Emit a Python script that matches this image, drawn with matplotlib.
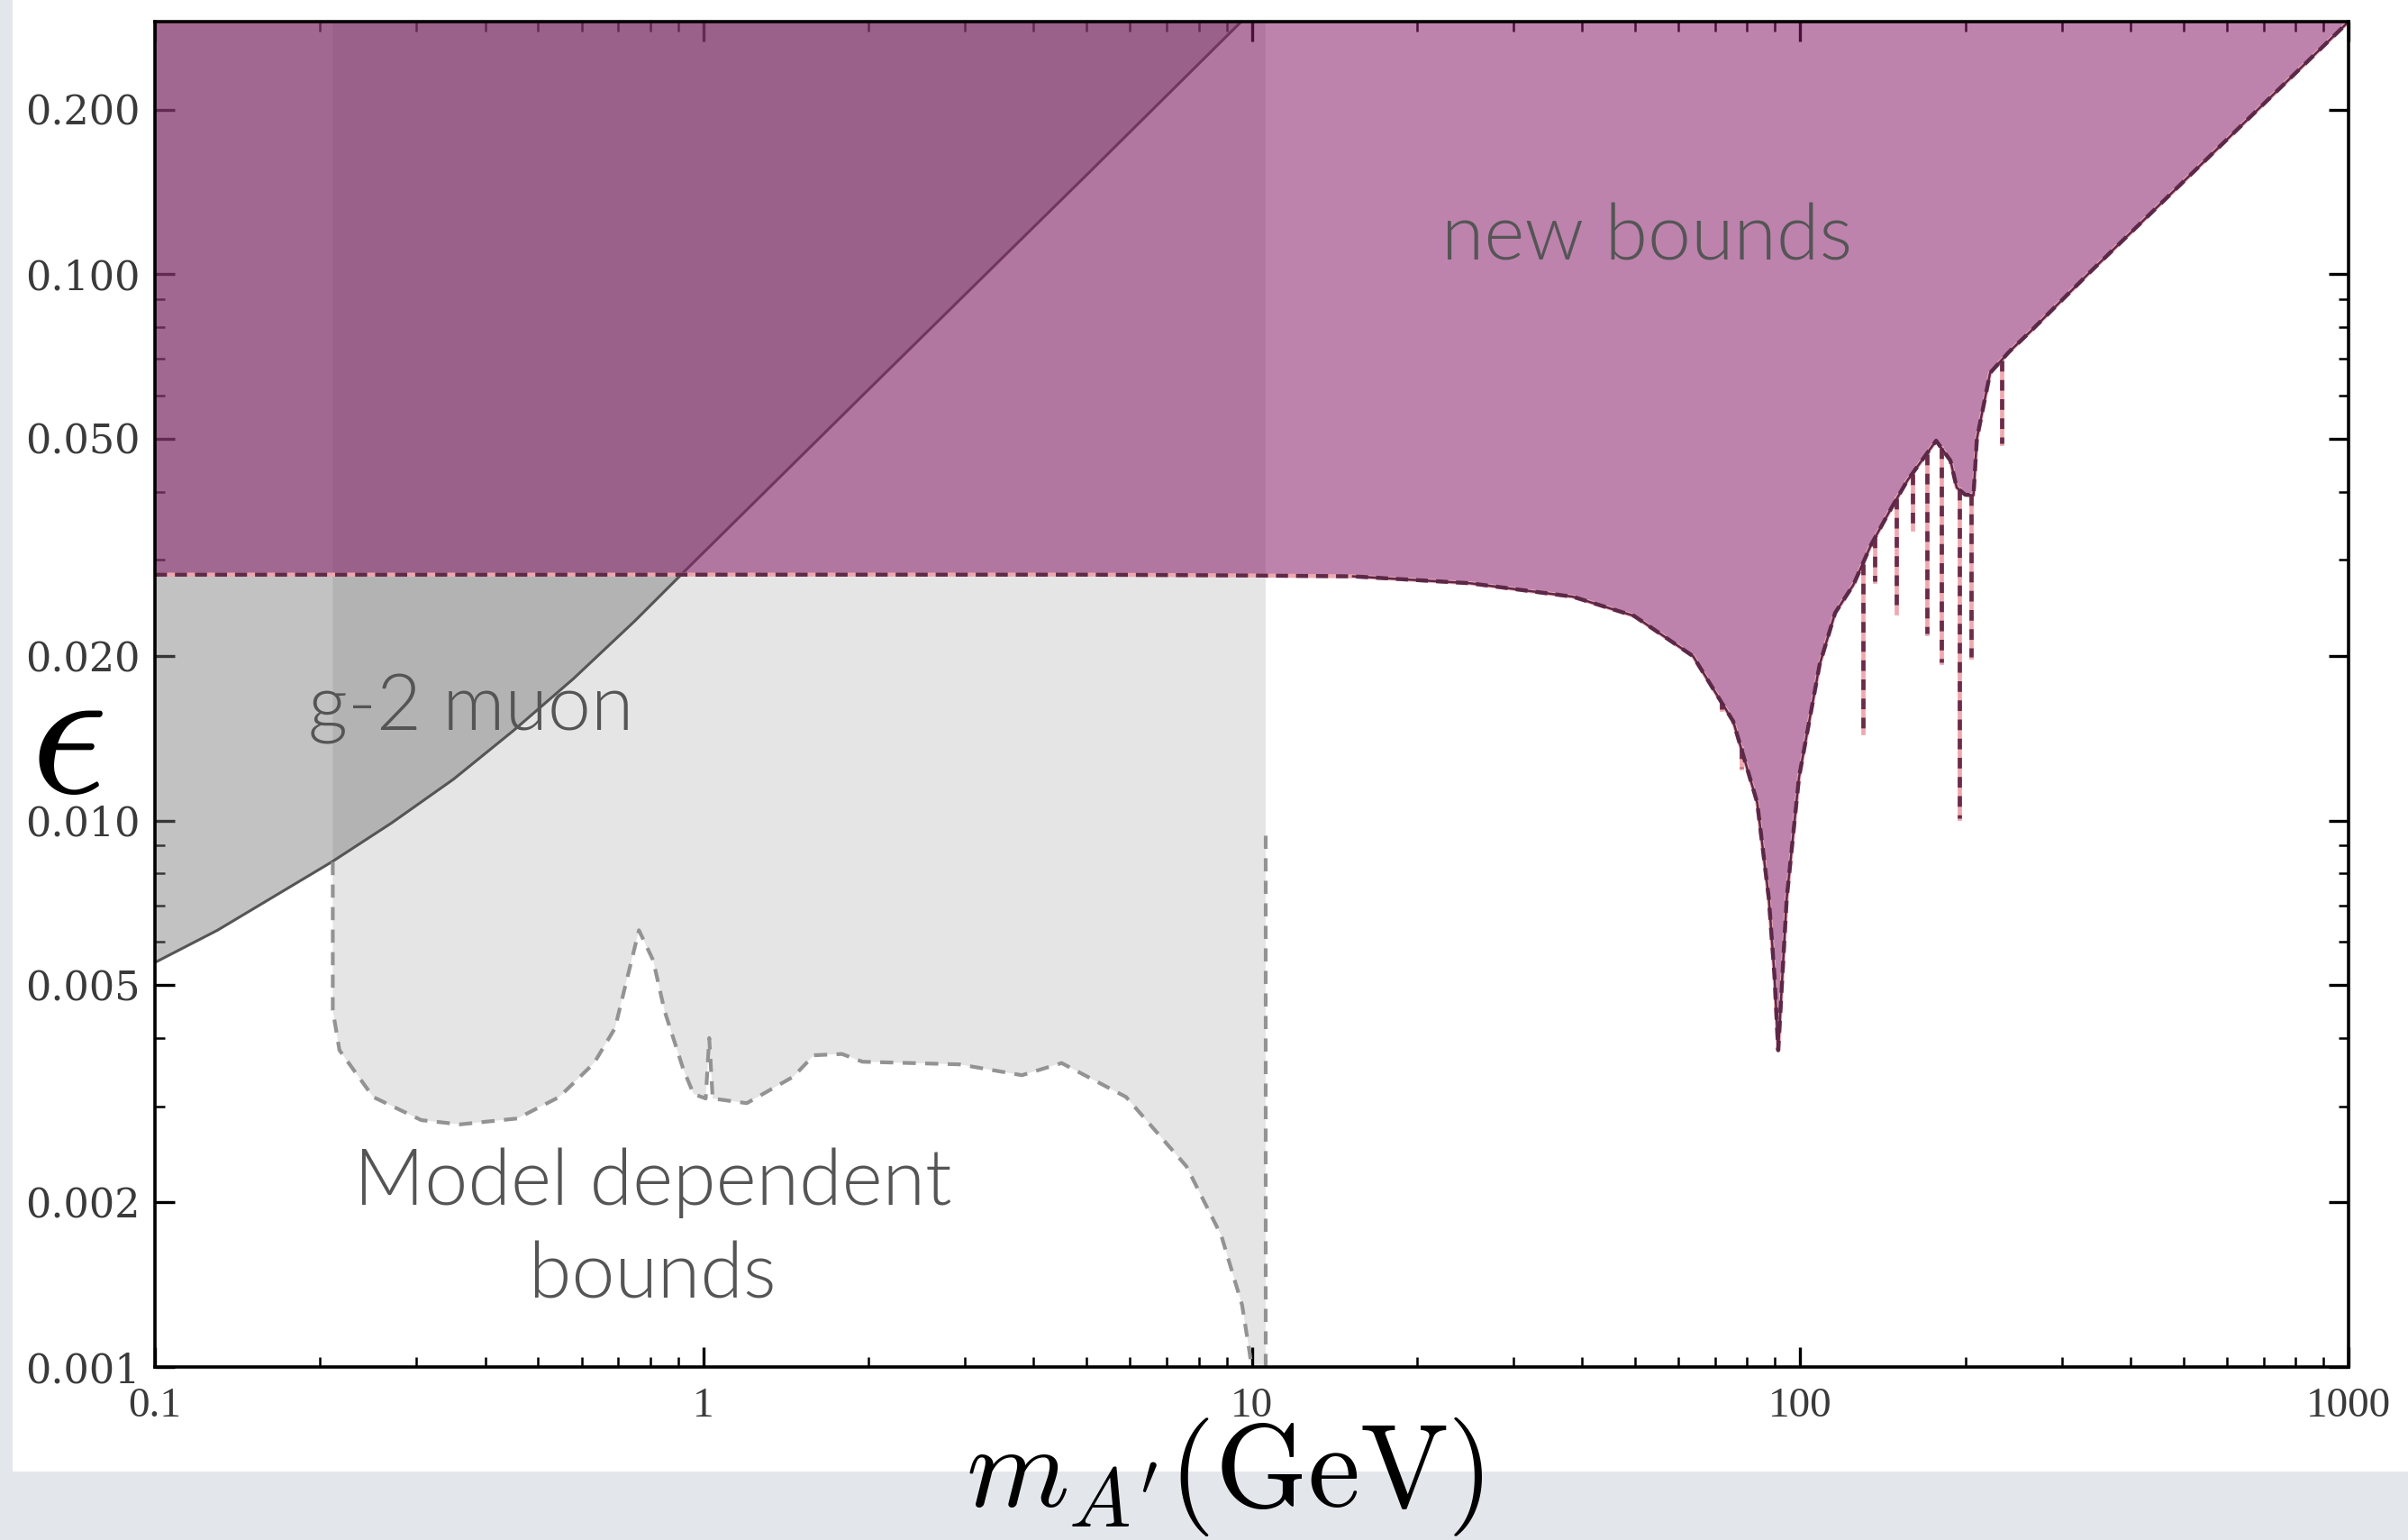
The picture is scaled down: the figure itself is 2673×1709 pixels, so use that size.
import numpy as np
import matplotlib.pyplot as plt
from matplotlib.patches import Rectangle
from matplotlib.ticker import FixedLocator, FixedFormatter, NullFormatter

plt.rcParams['mathtext.fontset'] = 'cm'

# g-2 muon: lower edge of the excluded region
g2_mass = [0.1, 0.13, 0.17, 0.21, 0.27, 0.35, 0.45, 0.58, 0.75, 0.95, 2.0, 5.0, 10.5]
g2_eps = [0.0055, 0.0063, 0.0074, 0.0084, 0.0099, 0.0119, 0.0146, 0.0182, 0.0232,
          0.0294, 0.0615, 0.152, 0.318]

# model dependent bounds: dashed lower edge
md_mass = [0.211, 0.211, 0.217, 0.25, 0.306, 0.36, 0.458, 0.546, 0.632, 0.69, 0.763,
           0.81, 0.85, 0.92, 0.96, 1.01, 1.025, 1.04, 1.2, 1.46, 1.59, 1.79, 1.95,
           2.93, 3.81, 4.5, 5.9, 7.6, 8.8, 9.6, 9.9, 10.0]
md_eps = [0.0084, 0.0045, 0.0038, 0.00312, 0.00283, 0.00278, 0.00285, 0.00312, 0.0036,
          0.00417, 0.0063, 0.00555, 0.00448, 0.0035, 0.00316, 0.0031, 0.0040, 0.0031,
          0.00304, 0.0034, 0.00372, 0.00374, 0.00362, 0.00358, 0.00342, 0.0036, 0.00312,
          0.00233, 0.00174, 0.0013, 0.00107, 0.001]
md_cut_mass = 10.6
md_cut_eps = 0.0096

# new bounds: lower edge of the excluded region
nb_mass = [0.1, 5, 10, 15.3, 25, 38.5, 49.8, 63.8, 75.5, 83.5, 87.7, 89.8, 91.2, 92.8,
           94.5, 99.5, 108.5, 115.8, 125, 134.7, 147, 157, 177, 188, 193, 200, 207,
           210, 222, 240, 263, 338, 1000]
nb_eps = [0.0282, 0.0282, 0.0281, 0.0280, 0.0272, 0.0257, 0.0237, 0.0200, 0.0152,
          0.0108, 0.0072, 0.0052, 0.0038, 0.0052, 0.0072, 0.0120, 0.0193, 0.0240,
          0.0270, 0.0320, 0.0375, 0.0420, 0.0496, 0.0456, 0.0407, 0.0395, 0.0394,
          0.0500, 0.0660, 0.0720, 0.0786, 0.1010, 0.29]

# resonance spikes hanging under the new bound
spike_mass = [72, 78, 130, 137, 150, 160, 170, 181, 195, 205, 233]
spike_eps = [0.0160, 0.0125, 0.0145, 0.0274, 0.0240, 0.0342, 0.0220, 0.0195, 0.0101, 0.0199, 0.0490]

x_ticks = [0.1, 1, 10, 100, 1000]
x_labels = ['0.1', '1', '10', '100', '1000']
y_ticks = [0.001, 0.002, 0.005, 0.010, 0.020, 0.050, 0.100, 0.200]
y_labels = ['0.001', '0.002', '0.005', '0.010', '0.020', '0.050', '0.100', '0.200']

x_min, x_max = 0.1, 1000
y_min, y_max = 0.001, 0.29
fill_top = 0.35

fig = plt.figure(figsize=(26.73, 17.09), dpi=100, facecolor='#e3e6eb')
# white slide area
fig.add_artist(Rectangle((14 / 2673, 76 / 1709), 1, 1, transform=fig.transFigure,
                         facecolor='white', edgecolor='none', zorder=-10))

ax = fig.add_axes([172 / 2673, 192 / 1709, 2435 / 2673, 1493 / 1709])
ax.set_xscale('log')
ax.set_yscale('log')
ax.set_xlim(x_min, x_max)
ax.set_ylim(y_min, y_max)

# model dependent region
poly_x = [md_mass[0]] + md_mass + [md_cut_mass, md_cut_mass, md_mass[0]]
poly_y = [fill_top] + md_eps + [y_min, fill_top, fill_top]
ax.fill(poly_x, poly_y, color='#e5e5e5', lw=0, zorder=1)

# g-2 region
ax.fill_between(g2_mass, g2_eps, fill_top, color='#7a7a7a', alpha=0.46, lw=0, zorder=2)
ax.plot(g2_mass, g2_eps, color='#555555', lw=2.2, zorder=2.5)

# new bounds region
ax.fill_between(nb_mass, nb_eps, fill_top, color='#871e6a', alpha=0.55, lw=0, zorder=3)

# dashed edges
md_style = dict(color='#939393', lw=3, ls=(0, (3.5, 2.5)), zorder=4)
ax.plot(md_mass, md_eps, **md_style)
ax.plot([md_cut_mass, md_cut_mass], [y_min, md_cut_eps], **md_style)

ax.plot(nb_mass, nb_eps, color='#f0a8b0', lw=3.2, zorder=4)
ax.plot(nb_mass, nb_eps, color='#5e2a48', lw=3.2, ls=(0, (3, 2)), zorder=4.5)
nb_solid = [i for i, m in enumerate(nb_mass) if m >= 12]
ax.plot([nb_mass[i] for i in nb_solid], [nb_eps[i] for i in nb_solid],
        color='#5a2848', lw=1.8, zorder=5)

log_top = np.interp(np.log(spike_mass), np.log(nb_mass), np.log(nb_eps))
for m, top, e in zip(spike_mass, np.exp(log_top), spike_eps):
    ax.plot([m, m], [top, e], color='#f0a8b0', lw=3.4, zorder=4)
    ax.plot([m, m], [top, e], color='#6a2c48', lw=3.4, ls=(0, (2.5, 2)), zorder=4.5)

# ticks
ax.xaxis.set_major_locator(FixedLocator(x_ticks))
ax.xaxis.set_major_formatter(FixedFormatter(x_labels))
ax.xaxis.set_minor_locator(FixedLocator([d * s for d in [0.1, 1, 10, 100] for s in range(2, 10)]))
ax.xaxis.set_minor_formatter(NullFormatter())
ax.yaxis.set_major_locator(FixedLocator(y_ticks))
ax.yaxis.set_major_formatter(FixedFormatter(y_labels))
ax.yaxis.set_minor_locator(FixedLocator([d * s for d in [0.001, 0.01, 0.1] for s in [3, 4, 6, 7, 8, 9]]))
ax.yaxis.set_minor_formatter(NullFormatter())

ax.tick_params(which='both', direction='in', top=True, right=True, colors='black')
ax.tick_params(which='major', length=16, width=2.4)
ax.tick_params(which='minor', length=8, width=1.8)
ax.tick_params(axis='y', which='major', pad=12, labelsize=32, labelcolor='#3a3a3a')
ax.tick_params(axis='x', which='major', pad=16, labelsize=34, labelcolor='#3a3a3a')
for lab in ax.get_yticklabels():
    lab.set_family('DejaVu Serif')
for lab in ax.get_xticklabels():
    lab.set_family('Liberation Serif')
for sp in ax.spines.values():
    sp.set_linewidth(2.6)
    sp.set_zorder(6)

# annotations
txt = dict(family='Lato', weight=300, color='#555555', fontsize=62,
           ha='center', va='center', zorder=7)
ax.text(0.68, 0.839, 'new bounds', transform=ax.transAxes, **txt)
ax.text(0.144, 0.489, 'g-2 muon', transform=ax.transAxes, **txt)
ax.text(0.227, 0.102, 'Model dependent\nbounds', transform=ax.transAxes,
        linespacing=1.4, **txt)

fig.text(74 / 2673, 1 - 822 / 1709, r'$\epsilon$', fontsize=152, ha='center', va='center')
fig.text(1359 / 2673, 1 - 1672 / 1709, r"$m_{A'}(\mathrm{GeV})$", fontsize=94,
         ha='center', va='baseline')

fig.savefig('out.png', dpi=100, facecolor=fig.get_facecolor())
